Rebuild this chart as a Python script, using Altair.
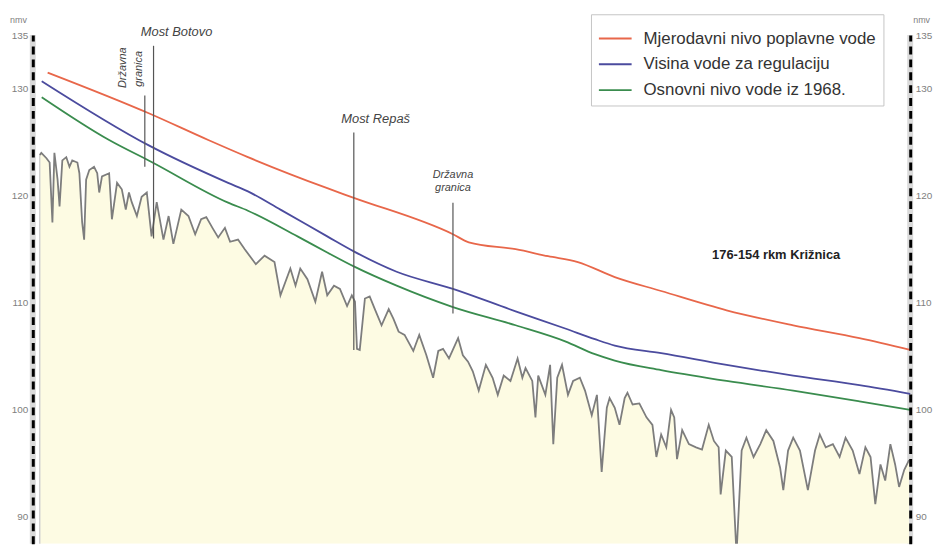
import altair as alt
import pandas as pd

# ---------------- data ----------------
# river bed profile: river km (rkm) and elevation (m a.s.l.)
bed_rkm = [176.0, 175.96, 175.83, 175.75, 175.68, 175.63, 175.55, 175.5, 175.43, 175.33,
           175.25, 175.18, 175.05, 175.0, 174.93, 174.88, 174.83, 174.75, 174.63, 174.55,
           174.5, 174.43, 174.25, 174.18, 174.05, 173.93, 173.83, 173.75, 173.68, 173.55,
           173.43, 173.3, 173.18, 173.05, 172.88, 172.75, 172.63, 172.43, 172.25, 172.08,
           171.93, 171.8, 171.63, 171.5, 171.33, 171.2, 171.0, 170.83, 170.55, 170.33,
           170.08, 169.93, 169.68, 169.55, 169.43, 169.25, 169.05, 168.88, 168.75,
           168.58, 168.43, 168.25, 168.13, 168.05, 168.0, 167.93, 167.8, 167.68, 167.55,
           167.38, 167.2, 167.08, 166.95, 166.8, 166.58, 166.43, 166.25, 166.08, 165.95,
           165.83, 165.68, 165.45, 165.33, 165.2, 165.08, 164.93, 164.75, 164.58, 164.45,
           164.3, 164.13, 163.95, 163.83, 163.75, 163.58, 163.5, 163.43, 163.25, 163.13,
           163.05, 162.95, 162.83, 162.68, 162.55, 162.38, 162.25, 162.08, 161.95, 161.83,
           161.7, 161.63, 161.5, 161.38, 161.25, 161.18, 161.05, 160.88, 160.7, 160.55,
           160.45, 160.33, 160.2, 160.08, 160.0, 159.93, 159.8, 159.63, 159.45, 159.3,
           159.13, 159.0, 158.88, 158.83, 158.7, 158.55, 158.43, 158.3, 158.18, 158.0,
           157.83, 157.68, 157.5, 157.33, 157.25, 157.13, 157.0, 156.83, 156.63, 156.45,
           156.33, 156.18, 156.0, 155.83, 155.68, 155.5, 155.33, 155.18, 155.05, 154.93,
           154.8, 154.68, 154.55, 154.43, 154.33, 154.2, 154.08]
bed_elev = [123.8, 124.0, 123.5, 123.1, 117.5, 124.0, 121.5, 119.0, 123.3, 123.6,
            122.7, 123.3, 123.1, 122.1, 117.5, 115.9, 121.5, 122.4, 122.7, 122.1,
            120.3, 121.8, 122.1, 117.8, 121.2, 120.6, 118.7, 120.3, 119.4, 118.1,
            119.9, 120.3, 116.2, 119.4, 115.9, 118.1, 115.5, 118.7, 118.1, 116.4,
            117.8, 118.0, 116.9, 116.1, 117.0, 115.7, 115.9, 115.0, 113.6, 114.4,
            113.8, 110.7, 113.2, 111.6, 113.2, 112.2, 110.1, 112.9, 110.7,
            111.6, 111.3, 109.7, 110.7, 110.1, 105.7, 105.6, 110.4, 110.6, 109.4,
            107.9, 109.4, 108.5, 107.3, 107.0, 105.5, 107.0, 105.1, 103.0, 105.5,
            105.7, 104.8, 106.7, 105.1, 104.5, 103.6, 101.8, 104.2, 103.0, 101.4,
            103.2, 102.7, 104.8, 103.0, 103.9, 102.7, 99.3, 103.2, 101.4, 104.2,
            96.8, 103.0, 104.2, 101.4, 102.7, 103.0, 101.8, 99.5, 101.4, 94.2,
            100.2, 101.1, 100.2, 98.6, 101.1, 101.6, 100.5, 100.6, 99.3, 98.6,
            95.6, 97.7, 96.5, 100.0, 99.3, 95.4, 98.1, 96.8, 96.5, 96.3,
            98.6, 97.1, 96.5, 92.1, 96.2, 95.6, 86.5, 96.2, 97.4, 95.6,
            96.8, 98.1, 97.1, 94.6, 92.5, 96.2, 97.4, 96.2, 92.5, 96.2,
            97.7, 96.5, 96.8, 95.6, 97.4, 96.2, 94.0, 96.5, 95.6, 91.2,
            94.9, 93.4, 96.8, 94.9, 92.8, 94.4, 95.3]

series_names = ["Mjerodavni nivo poplavne vode",
                "Visina vode za regulaciju",
                "Osnovni nivo vode iz 1968."]
series_colors = ["#e8674a", "#4b4b9e", "#3a8c4e"]

red_rkm = [175.8, 173.25, 171.75, 170.75, 168.75, 168.08, 165.58, 165.18, 164.0,
           163.18, 162.43, 161.5, 160.33, 158.68, 157.0, 155.33, 154.05]
red_v = [131.5, 127.7, 125.2, 123.6, 120.7, 119.8, 116.4, 115.65, 115.0,
         114.35, 113.8, 112.4, 111.1, 109.3, 107.9, 106.7, 105.6]

blue_rkm = [175.95, 173.25, 171.25, 170.75, 169.93, 168.75, 168.08, 167.0, 165.58,
            164.0, 162.75, 162.0, 161.5, 160.33, 158.68, 157.0, 155.33, 154.05]
blue_v = [130.7, 124.7, 121.2, 120.4, 118.7, 116.2, 114.8, 112.9, 111.3,
          109.2, 107.6, 106.6, 106.0, 105.3, 104.2, 103.2, 102.3, 101.5]

green_rkm = [175.95, 174.25, 173.18, 171.25, 170.75, 169.5, 168.75, 168.08, 167.0,
             165.58, 164.0, 162.75, 162.0, 161.5, 160.33, 158.68, 157.0, 155.33, 154.05]
green_v = [129.2, 125.2, 123.15, 119.35, 118.6, 116.2, 114.7, 113.4, 111.6,
           109.6, 107.9, 106.4, 105.2, 104.6, 103.7, 102.7, 101.8, 100.8, 100.0]

# annotation markers (vertical lines)
mark_rkm = [173.13, 173.35, 168.08, 165.58]
mark_top = [134.0, 129.35, 125.9, 119.35]
mark_bottom = [116.0, 122.7, 105.6, 109.0]

# annotation labels
bridge_text = ["Most Botovo", "Most Repaš"]
bridge_rkm = [172.55, 167.53]
bridge_v = [135.3, 127.2]

border_text = ["Državna", "granica"]
border_rkm = [165.58, 165.58]
border_v = [121.9, 120.7]

rot_text = ["Državna", "granica"]
rot_rkm = [173.9, 173.5]
rot_v = [131.95, 131.85]

info_text = ["176-154 rkm Križnica"]
info_rkm = [157.43]
info_v = [114.5]

y_ticks = [90, 100, 110, 120, 130, 135]
X_DOMAIN = [154.05, 176.175]
Y_DOMAIN = [87.5, 135]

# ---------------- tables ----------------
bed = pd.DataFrame({"rkm": bed_rkm, "v": bed_elev})
bed["base"] = Y_DOMAIN[0]

water = pd.concat([
    pd.DataFrame({"rkm": red_rkm, "v": red_v, "serija": series_names[0]}),
    pd.DataFrame({"rkm": blue_rkm, "v": blue_v, "serija": series_names[1]}),
    pd.DataFrame({"rkm": green_rkm, "v": green_v, "serija": series_names[2]}),
], ignore_index=True)

marks_df = pd.DataFrame({"rkm": mark_rkm, "v": mark_top, "v2": mark_bottom})
bridge_df = pd.DataFrame({"rkm": bridge_rkm, "v": bridge_v, "t": bridge_text})
border_df = pd.DataFrame({"rkm": border_rkm, "v": border_v, "t": border_text})
rot_df = pd.DataFrame({"rkm": rot_rkm, "v": rot_v, "t": rot_text})
info_df = pd.DataFrame({"rkm": info_rkm, "v": info_v, "t": info_text})
band_df = pd.DataFrame({"rkm": [X_DOMAIN[1], X_DOMAIN[0]],
                        "v": [Y_DOMAIN[0]] * 2, "v2": [Y_DOMAIN[1]] * 2})
edge_df = pd.DataFrame({"rkm": [bed_rkm[0]], "v": [Y_DOMAIN[0]], "v2": [bed_elev[0]]})

# ---------------- encodings ----------------
W, H = 885, 513
xs = alt.Scale(domain=X_DOMAIN, reverse=True, nice=False, zero=False)
ys = alt.Scale(domain=Y_DOMAIN, nice=False, zero=False)

axis_common = dict(values=y_ticks, ticks=False, grid=False, labelFontSize=10,
                   labelColor="#808080", labelFont="Liberation Sans", labelFlush=False,
                   domainColor="black", domainWidth=3, domainDash=[8, 5],
                   title="nmv", titleAngle=0, titleFontSize=9, titleFontWeight="normal",
                   titleColor="#808080", titleFont="Liberation Sans", titleAlign="center",
                   titleBaseline="middle", zindex=2)
left_axis = alt.Axis(orient="left", labelPadding=5, titleX=-15, titleY=-16, **axis_common)
right_axis = alt.Axis(orient="right", labelPadding=5, titleX=11, titleY=-16, **axis_common)


def X():
    return alt.X("rkm:Q", scale=xs, axis=None)


def Y():
    return alt.Y("v:Q", scale=ys, axis=left_axis)


FONT = "Liberation Sans Narrow, Arial Narrow, Liberation Sans, sans-serif"

band = alt.Chart(band_df).mark_rule(color="#dadada", strokeWidth=6).encode(
    x=X(), y=Y(), y2=alt.Y2("v2:Q"))

area = alt.Chart(bed).mark_area(color="#fdfbe3", clip=True).encode(
    x=X(), y=Y(), y2=alt.Y2("base:Q"))

edge = alt.Chart(edge_df).mark_rule(color="#d0d0d0", strokeWidth=1.5).encode(
    x=X(), y=Y(), y2=alt.Y2("v2:Q"))

bed_line = alt.Chart(bed).mark_line(color="#7d7d7d", strokeWidth=1.8, clip=True).encode(
    x=X(), y=Y())

water_lines = alt.Chart(water).mark_line(strokeWidth=1.8, interpolate="monotone").encode(
    x=X(), y=Y(),
    color=alt.Color("serija:N",
                    scale=alt.Scale(domain=series_names, range=series_colors),
                    legend=alt.Legend(title=None, orient="none", legendX=563, legendY=-21,
                                      direction="vertical", symbolType="stroke",
                                      symbolSize=1089, symbolStrokeWidth=2,
                                      labelFontSize=17, labelFont="Liberation Sans",
                                      labelColor="#333333", labelOffset=11, rowPadding=0,
                                      padding=7, strokeColor="#c4c4c4", fillColor="white",
                                      labelLimit=400)))

marker_rules = alt.Chart(marks_df).mark_rule(color="#555555", strokeWidth=1.2).encode(
    x=X(), y=Y(), y2=alt.Y2("v2:Q"))

bridges = alt.Chart(bridge_df).mark_text(font=FONT, fontStyle="italic", fontSize=13,
                                         color="#444444").encode(x=X(), y=Y(), text="t:N")

border = alt.Chart(border_df).mark_text(font=FONT, fontStyle="italic", fontSize=11,
                                        color="#444444").encode(x=X(), y=Y(), text="t:N")

rot_labels = alt.Chart(rot_df).mark_text(font=FONT, fontStyle="italic", fontSize=11,
                                         angle=270, color="#444444").encode(
    x=X(), y=Y(), text="t:N")

info = alt.Chart(info_df).mark_text(font=FONT, fontWeight="bold", fontSize=13,
                                    color="#222222").encode(x=X(), y=Y(), text="t:N")

main = alt.layer(band, area, edge, bed_line, water_lines, marker_rules,
                 bridges, border, rot_labels, info)

right = alt.Chart(bed).mark_point(opacity=0).encode(
    x=X(), y=alt.Y("v:Q", scale=ys, axis=right_axis))

chart = alt.layer(main, right).resolve_scale(y="independent").properties(
    width=W, height=H,
    padding={"left": 25, "top": 25, "right": 24, "bottom": 1},
    autosize=alt.AutoSizeParams(type="none"),
    background="white",
).configure_view(stroke=None)

chart.save("out.html", embed_options={"renderer": "svg", "actions": False})
